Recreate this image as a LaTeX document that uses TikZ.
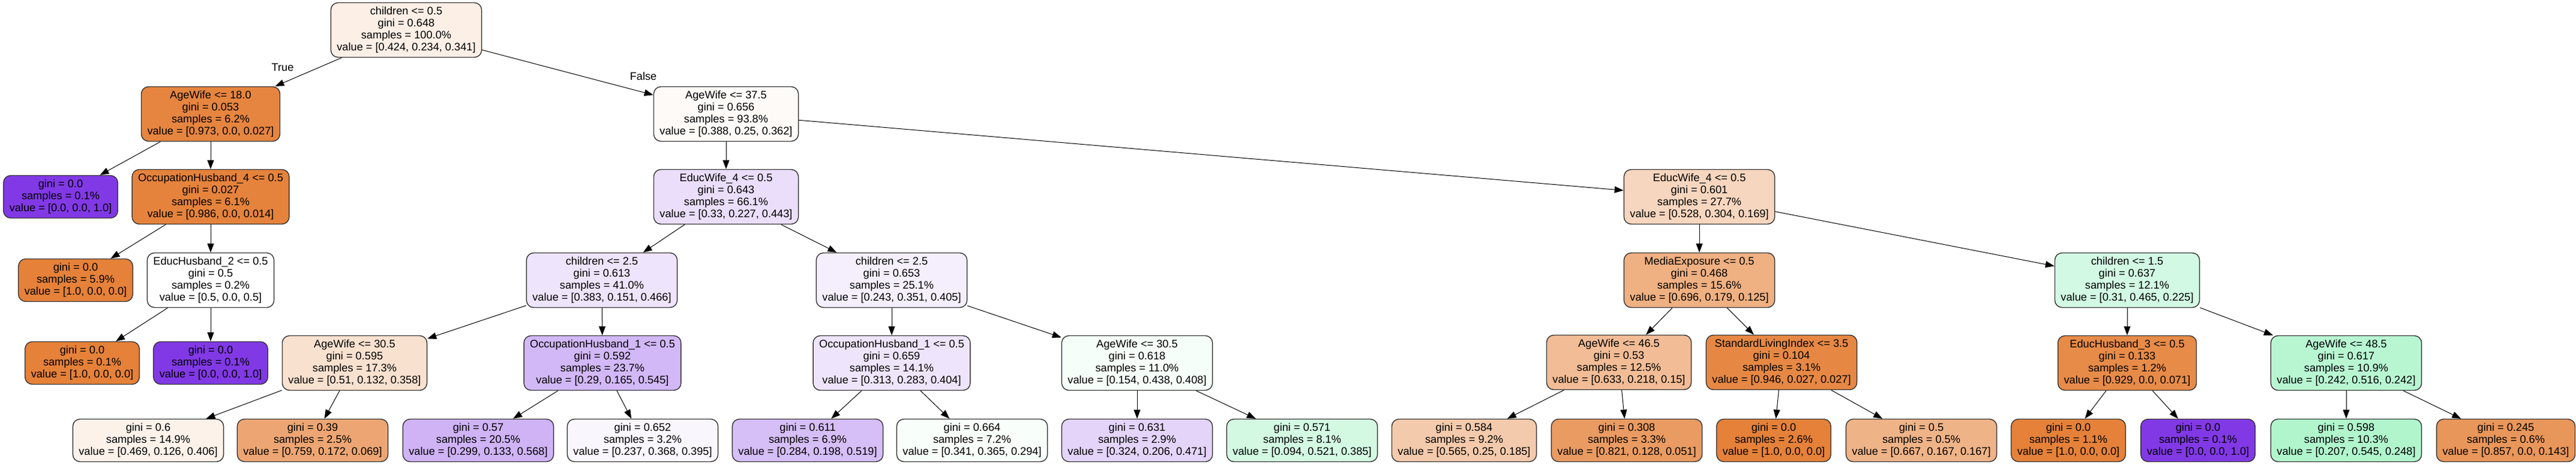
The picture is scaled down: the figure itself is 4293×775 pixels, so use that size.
\documentclass[tikz,border=0pt]{standalone}
\usepackage{fontspec}
\setmainfont{Liberation Sans}
\usetikzlibrary{arrows.meta, positioning}

% class colours of the tree
\definecolor{clsA}{HTML}{E58139}
\definecolor{clsB}{HTML}{39E581}
\definecolor{clsC}{HTML}{8139E5}

\begin{document}
\begin{tikzpicture}[x=0.5pt, y=-0.5pt,
		  % Define the style of the split nodes
		  split/.style={rectangle, draw=black!80, line width=0.7pt, rounded corners=6pt,
		    align=center, inner xsep=5pt, inner ysep=3.5pt, font=\fontsize{9.1}{10}\selectfont},
		  % Define the style of the leaf nodes
		  leaf/.style={split},
		  % Define the style of the arrow between nodes
		  arrow/.style={->, >={Triangle[length=7.5pt, width=5.5pt]}, line width=0.5pt},
		  % Define the style of the True/False labels
		  edgelabel/.style={font=\fontsize{9.1}{10}\selectfont}
		  ]
		  \useasboundingbox (0,0) rectangle (4293,775);

		  % Root
		  \node[split, fill=clsA!12.6] (root) at (677,50) {children <= 0.5\\gini = 0.648\\samples = 100.0\%\\value = [0.424, 0.234, 0.341]};

		  % True branch
		  \node[split, fill=clsA!97.2] (t) at (351,190) {AgeWife <= 18.0\\gini = 0.053\\samples = 6.2\%\\value = [0.973, 0.0, 0.027]};
		  \node[leaf, fill=clsC] (tt) at (101,328) {gini = 0.0\\samples = 0.1\%\\value = [0.0, 0.0, 1.0]};
		  \node[split, fill=clsA!98.6] (tf) at (351,328) {OccupationHusband\_4 <= 0.5\\gini = 0.027\\samples = 6.1\%\\value = [0.986, 0.0, 0.014]};
		  \node[leaf, fill=clsA] (tft) at (126,467) {gini = 0.0\\samples = 5.9\%\\value = [1.0, 0.0, 0.0]};
		  \node[split, fill=white] (tff) at (351,467) {EducHusband\_2 <= 0.5\\gini = 0.5\\samples = 0.2\%\\value = [0.5, 0.0, 0.5]};
		  \node[leaf, fill=clsA] (tfft) at (137,605) {gini = 0.0\\samples = 0.1\%\\value = [1.0, 0.0, 0.0]};
		  \node[leaf, fill=clsC] (tfff) at (351,605) {gini = 0.0\\samples = 0.1\%\\value = [0.0, 0.0, 1.0]};

		  % False branch
		  \node[split, fill=clsA!4.1] (f) at (1210,190) {AgeWife <= 37.5\\gini = 0.656\\samples = 93.8\%\\value = [0.388, 0.25, 0.362]};
		  \node[split, fill=clsC!16.9] (ft) at (1210,328) {EducWife\_4 <= 0.5\\gini = 0.643\\samples = 66.1\%\\value = [0.33, 0.227, 0.443]};
		  \node[split, fill=clsC!13.5] (ftt) at (1003,467) {children <= 2.5\\gini = 0.613\\samples = 41.0\%\\value = [0.383, 0.151, 0.466]};
		  \node[split, fill=clsA!23.7] (fttt) at (591,605) {AgeWife <= 30.5\\gini = 0.595\\samples = 17.3\%\\value = [0.51, 0.132, 0.358]};
		  \node[leaf, fill=clsA!10.6] (ftttt) at (247,734) {gini = 0.6\\samples = 14.9\%\\value = [0.469, 0.126, 0.406]};
		  \node[leaf, fill=clsA!70.9] (ftttf) at (521,734) {gini = 0.39\\samples = 2.5\%\\value = [0.759, 0.172, 0.069]};
		  \node[split, fill=clsC!35.9] (fttf) at (1004,605) {OccupationHusband\_1 <= 0.5\\gini = 0.592\\samples = 23.7\%\\value = [0.29, 0.165, 0.545]};
		  \node[leaf, fill=clsC!38.4] (fttft) at (797,734) {gini = 0.57\\samples = 20.5\%\\value = [0.299, 0.133, 0.568]};
		  \node[leaf, fill=clsC!4.3] (fttff) at (1071,734) {gini = 0.652\\samples = 3.2\%\\value = [0.237, 0.368, 0.395]};
		  \node[split, fill=clsC!8.3] (ftf) at (1486,467) {children <= 2.5\\gini = 0.653\\samples = 25.1\%\\value = [0.243, 0.351, 0.405]};
		  \node[split, fill=clsC!13.2] (ftft) at (1486,605) {OccupationHusband\_1 <= 0.5\\gini = 0.659\\samples = 14.1\%\\value = [0.313, 0.283, 0.404]};
		  \node[leaf, fill=clsC!32.8] (ftftt) at (1346,734) {gini = 0.611\\samples = 6.9\%\\value = [0.284, 0.198, 0.519]};
		  \node[leaf, fill=clsB!3.6] (ftftf) at (1620,734) {gini = 0.664\\samples = 7.2\%\\value = [0.341, 0.365, 0.294]};
		  \node[split, fill=clsB!5.1] (ftff) at (1895,605) {AgeWife <= 30.5\\gini = 0.618\\samples = 11.0\%\\value = [0.154, 0.438, 0.408]};
		  \node[leaf, fill=clsC!21.7] (ftfft) at (1895,734) {gini = 0.631\\samples = 2.9\%\\value = [0.324, 0.206, 0.471]};
		  \node[leaf, fill=clsB!22.1] (ftfff) at (2170,734) {gini = 0.571\\samples = 8.1\%\\value = [0.094, 0.521, 0.385]};
		  \node[split, fill=clsA!32.2] (ff) at (2832,328) {EducWife\_4 <= 0.5\\gini = 0.601\\samples = 27.7\%\\value = [0.528, 0.304, 0.169]};
		  \node[split, fill=clsA!63] (fft) at (2832,467) {MediaExposure <= 0.5\\gini = 0.468\\samples = 15.6\%\\value = [0.696, 0.179, 0.125]};
		  \node[split, fill=clsA!53.1] (fftt) at (2698,604) {AgeWife <= 46.5\\gini = 0.53\\samples = 12.5\%\\value = [0.633, 0.218, 0.15]};
		  \node[leaf, fill=clsA!42] (ffttt) at (2440,734) {gini = 0.584\\samples = 9.2\%\\value = [0.565, 0.25, 0.185]};
		  \node[leaf, fill=clsA!79.5] (ffttf) at (2711,734) {gini = 0.308\\samples = 3.3\%\\value = [0.821, 0.128, 0.051]};
		  \node[split, fill=clsA!94.4] (fftf) at (2969,604) {StandardLivingIndex <= 3.5\\gini = 0.104\\samples = 3.1\%\\value = [0.946, 0.027, 0.027]};
		  \node[leaf, fill=clsA] (fftft) at (2956,734) {gini = 0.0\\samples = 2.6\%\\value = [1.0, 0.0, 0.0]};
		  \node[leaf, fill=clsA!60] (fftff) at (3202,734) {gini = 0.5\\samples = 0.5\%\\value = [0.667, 0.167, 0.167]};
		  \node[split, fill=clsB!22.5] (fff) at (3545,467) {children <= 1.5\\gini = 0.637\\samples = 12.1\%\\value = [0.31, 0.465, 0.225]};
		  \node[split, fill=clsA!92.4] (ffft) at (3545,605) {EducHusband\_3 <= 0.5\\gini = 0.133\\samples = 1.2\%\\value = [0.929, 0.0, 0.071]};
		  \node[leaf, fill=clsA] (ffftt) at (3447,734) {gini = 0.0\\samples = 1.1\%\\value = [1.0, 0.0, 0.0]};
		  \node[leaf, fill=clsC] (ffftf) at (3663,734) {gini = 0.0\\samples = 0.1\%\\value = [0.0, 0.0, 1.0]};
		  \node[split, fill=clsB!36.1] (ffff) at (3910,605) {AgeWife <= 48.5\\gini = 0.617\\samples = 10.9\%\\value = [0.242, 0.516, 0.242]};
		  \node[leaf, fill=clsB!39.5] (fffft) at (3910,734) {gini = 0.598\\samples = 10.3\%\\value = [0.207, 0.545, 0.248]};
		  \node[leaf, fill=clsA!83.3] (fffff) at (4176,734) {gini = 0.245\\samples = 0.6\%\\value = [0.857, 0.0, 0.143]};

		  % Connect the nodes
		  \foreach \a/\b in {root/t, root/f, t/tt, t/tf, tf/tft, tf/tff, tff/tfft, tff/tfff,
		    f/ft, f/ff, ft/ftt, ft/ftf, ftt/fttt, ftt/fttf, fttt/ftttt, fttt/ftttf,
		    fttf/fttft, fttf/fttff, ftf/ftft, ftf/ftff, ftft/ftftt, ftft/ftftf,
		    ftff/ftfft, ftff/ftfff, ff/fft, ff/fff, fft/fftt, fft/fftf,
		    fftt/ffttt, fftt/ffttf, fftf/fftft, fftf/fftff, fff/ffft, fff/ffff,
		    ffft/ffftt, ffft/ffftf, ffff/fffft, ffff/fffff} {
		    \draw[arrow] (\a) -- (\b);
		  }

		  % Branch labels
		  \node[edgelabel] (truelabel) at (471,112) {True};
		  \node[edgelabel] (falselabel) at (1072,127) {False};
    \end{tikzpicture}
\end{document}
